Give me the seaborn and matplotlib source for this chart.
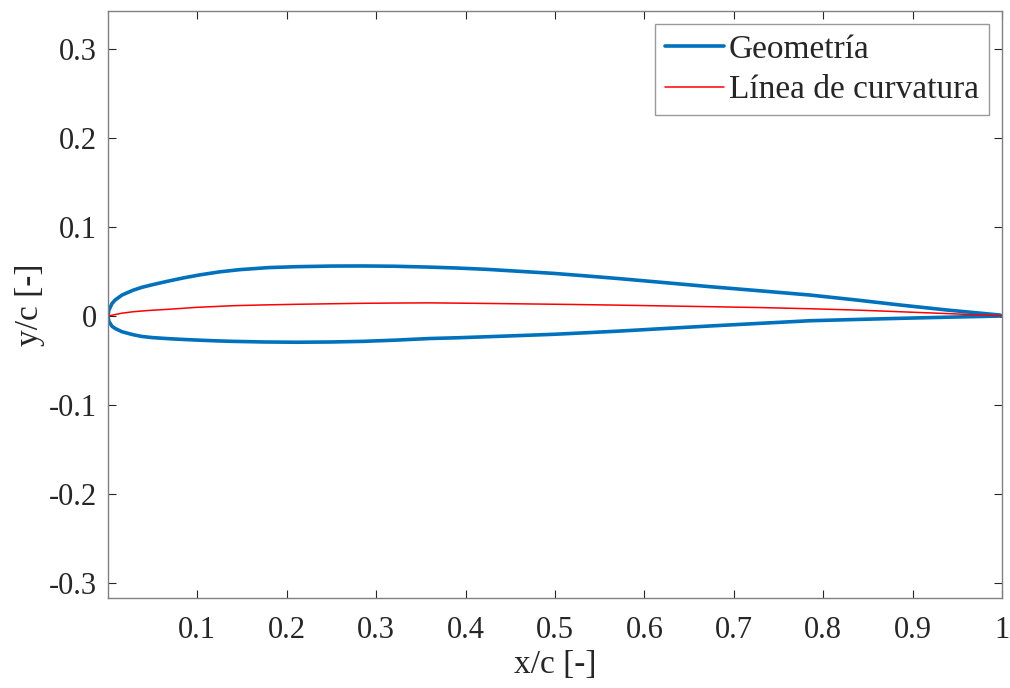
import numpy as np
import pandas as pd
import matplotlib
matplotlib.use("Agg")
import matplotlib.pyplot as plt
import seaborn as sns

# upper surface (x/c, y/c), trailing edge -> leading edge
upper_x = [1.0, 0.9978, 0.94, 0.8859, 0.84, 0.7852, 0.73, 0.6734, 0.62, 0.5727,
           0.535, 0.4978, 0.46, 0.4239, 0.39, 0.3602, 0.32, 0.2852, 0.25, 0.2111,
           0.18, 0.1477, 0.125, 0.1029, 0.085, 0.068, 0.05, 0.038, 0.028, 0.0157,
           0.008, 0.0045, 0.001, 0.0]
upper_y = [0.0, 0.0011, 0.0066, 0.0124, 0.0177, 0.0236, 0.0283, 0.0330, 0.0378, 0.0420,
           0.0451, 0.0480, 0.0503, 0.0525, 0.0540, 0.0550, 0.0560, 0.0563, 0.0562, 0.0555,
           0.0545, 0.0522, 0.0497, 0.0463, 0.0430, 0.0394, 0.0353, 0.0323, 0.0290, 0.0236,
           0.0180, 0.0140, 0.0065, 0.0]

# lower surface, leading edge -> trailing edge
lower_x = [0.0, 0.001, 0.0045, 0.008, 0.0157, 0.028, 0.038, 0.05, 0.068, 0.085,
           0.1029, 0.12, 0.1398, 0.175, 0.2114, 0.25, 0.2852, 0.32, 0.3602, 0.39,
           0.4239, 0.46, 0.4978, 0.535, 0.5727, 0.62, 0.6734, 0.73, 0.7852, 0.84,
           0.8859, 0.94, 0.9978, 1.0]
lower_y = [0.0, -0.0060, -0.0115, -0.0140, -0.0177, -0.0210, -0.0230, -0.0243, -0.0255, -0.0264,
           -0.0272, -0.0279, -0.0285, -0.0292, -0.0295, -0.0292, -0.0285, -0.0272, -0.0253, -0.0245,
           -0.0233, -0.0220, -0.0206, -0.0188, -0.0169, -0.0142, -0.0112, -0.0082, -0.0053, -0.0038,
           -0.0026, -0.0013, 0.0, 0.0]

# camber line
camber_x = [0.0, 0.0157, 0.028, 0.045, 0.068, 0.1, 0.1398, 0.175, 0.2114, 0.25,
            0.2852, 0.32, 0.3602, 0.41, 0.4609, 0.52, 0.5727, 0.62, 0.6734, 0.73,
            0.7852, 0.84, 0.8859, 0.94, 0.9978, 1.0]
camber_y = [0.0, 0.0032, 0.0048, 0.0062, 0.0076, 0.0098, 0.0116, 0.0125, 0.0132, 0.0138,
            0.0143, 0.0146, 0.0148, 0.0143, 0.0137, 0.0130, 0.0122, 0.0114, 0.0105, 0.0095,
            0.0082, 0.0066, 0.0048, 0.0027, 0.0003, 0.0]

xticks = [0.1, 0.2, 0.3, 0.4, 0.5, 0.6, 0.7, 0.8, 0.9, 1.0]
xtick_labels = ["0.1", "0.2", "0.3", "0.4", "0.5", "0.6", "0.7", "0.8", "0.9", "1"]
yticks = [-0.3, -0.2, -0.1, 0.0, 0.1, 0.2, 0.3]
ytick_labels = ["-0.3", "-0.2", "-0.1", "0", "0.1", "0.2", "0.3"]

sns.set_style("ticks")
plt.rcParams['font.family'] = ['Liberation Serif', 'DejaVu Serif']

geom = pd.DataFrame({"x": upper_x + lower_x[1:], "y": upper_y + lower_y[1:]})
camber = pd.DataFrame({"x": camber_x, "y": camber_y})

fig = plt.figure(figsize=(10.1, 6.88), dpi=100)
ax = fig.add_axes([0.1069, 0.1308, 0.9921 - 0.1069, 0.984 - 0.1308])

sns.lineplot(data=geom, x="x", y="y", sort=False, estimator=None, ax=ax,
             color="#0072BD", linewidth=2.6, label="Geometría")
sns.lineplot(data=camber, x="x", y="y", sort=False, estimator=None, ax=ax,
             color="#FF0000", linewidth=1.1, label="Línea de curvatura")

ax.set_xlim(0, 1)
ax.set_ylim(-0.3172, 0.3431)
ax.set_xticks(xticks)
ax.set_xticklabels(xtick_labels)
ax.set_yticks(yticks)
ax.set_yticklabels(ytick_labels)

ax.tick_params(direction="in", length=6, width=0.8, top=True, right=True,
               labelsize=22, colors="#262626")
ax.tick_params(axis="x", pad=13)
ax.tick_params(axis="y", pad=8)
for s in ax.spines.values():
    s.set_visible(True)
    s.set_color("#808080")
    s.set_linewidth(1.0)

ax.set_xlabel("x/c [-]", fontsize=24, color="#262626", labelpad=3)
ax.set_ylabel("y/c [-]", fontsize=24, color="#262626", labelpad=3)

leg = ax.legend(loc="upper right", fontsize=24, frameon=True, fancybox=False,
                handlelength=1.75, handletextpad=0.15, borderpad=0.3,
                labelspacing=0.3, borderaxespad=0.4)
leg.get_frame().set_edgecolor("#808080")
leg.get_frame().set_linewidth(1.0)

fig.savefig("out.png", dpi=100)
